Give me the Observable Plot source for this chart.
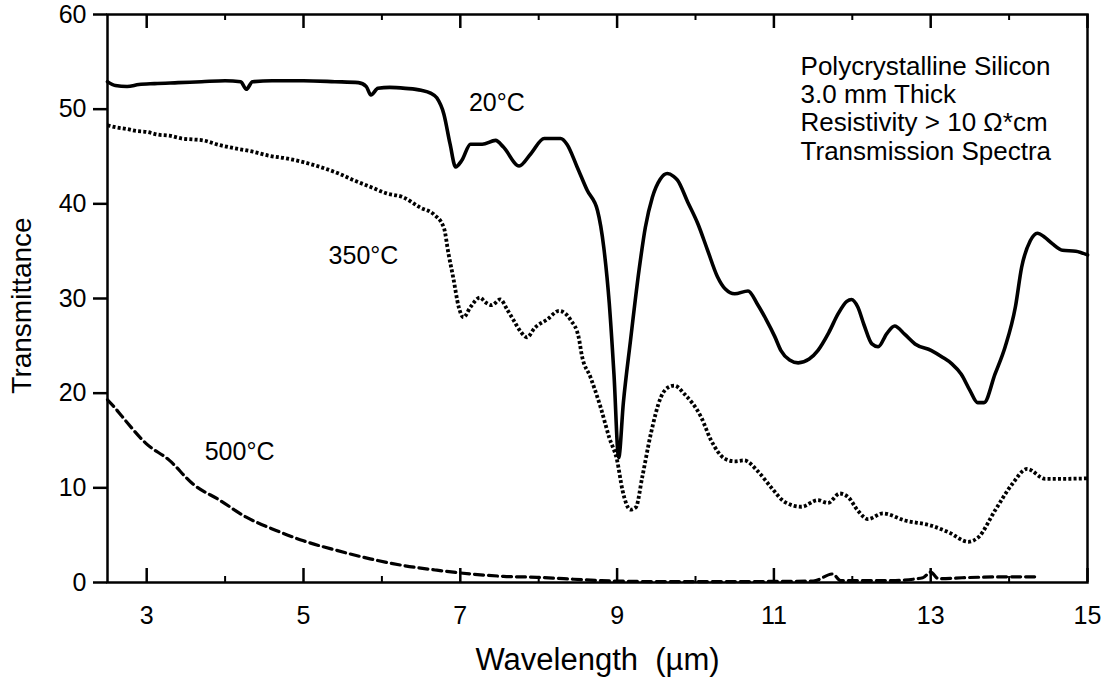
<!DOCTYPE html>
<html>
<head>
<meta charset="utf-8">
<script src="https://cdn.jsdelivr.net/npm/d3@7"></script>
<script src="https://cdn.jsdelivr.net/npm/@observablehq/plot@0.6"></script>
<style>
  html, body { margin: 0; padding: 0; background: #fff; }
</style>
</head>
<body>
<div id="chart"></div>
<script>
// Transmission spectra of polycrystalline silicon at three temperatures

// 20 °C spectrum: wavelength (µm) and transmittance (%)
const wl20 = [2.5, 2.6, 2.75, 2.9, 3.1, 3.4, 3.7, 4.0, 4.2, 4.27, 4.35, 4.6, 5.0, 5.4, 5.7, 5.8, 5.86, 5.95, 6.1, 6.3, 6.5, 6.62, 6.7, 6.79, 6.87, 6.94, 7.02, 7.13, 7.28, 7.45, 7.55, 7.75, 7.9, 8.07, 8.28, 8.36, 8.49, 8.62, 8.75, 8.83, 8.9, 8.96, 9.02, 9.08, 9.17, 9.28, 9.36, 9.45, 9.55, 9.64, 9.72, 9.77, 9.9, 10.03, 10.15, 10.28, 10.38, 10.5, 10.67, 10.79, 10.9, 11.01, 11.09, 11.2, 11.31, 11.45, 11.56, 11.7, 11.82, 11.93, 11.99, 12.07, 12.15, 12.25, 12.33, 12.44, 12.54, 12.67, 12.8, 13.01, 13.15, 13.27, 13.39, 13.5, 13.6, 13.68, 13.82, 13.95, 14.08, 14.16, 14.27, 14.36, 14.45, 14.55, 14.68, 14.85, 15.0];
const t20 = [52.9, 52.5, 52.4, 52.6, 52.7, 52.8, 52.9, 53.0, 52.9, 52.1, 52.9, 53.0, 53.0, 52.9, 52.8, 52.4, 51.5, 52.2, 52.3, 52.2, 52.0, 51.7, 51.2, 49.5, 46.3, 43.9, 44.6, 46.3, 46.3, 46.7, 46.0, 44.0, 45.3, 46.9, 46.9, 46.3, 43.9, 41.4, 39.3, 35.4, 29.5, 22.0, 13.2, 19.0, 25.5, 33.0, 37.5, 40.7, 42.6, 43.2, 42.9, 42.5, 40.2, 37.9, 35.2, 32.3, 31.0, 30.5, 30.8, 29.4, 27.8, 26.0, 24.5, 23.5, 23.2, 23.6, 24.5, 26.4, 28.4, 29.7, 29.9, 29.1, 27.2, 25.2, 24.9, 26.3, 27.1, 26.2, 25.2, 24.5, 23.8, 23.1, 22.0, 20.3, 19.0, 19.0, 22.0, 24.9, 29.1, 33.3, 36.1, 36.9, 36.5, 35.8, 35.1, 35.0, 34.6];

// 350 °C spectrum
const wl350 = [2.5, 2.6, 2.75, 2.86, 3.0, 3.15, 3.29, 3.45, 3.6, 3.72, 3.93, 4.1, 4.36, 4.55, 4.78, 5.0, 5.21, 5.45, 5.64, 5.85, 6.06, 6.27, 6.49, 6.66, 6.79, 6.85, 6.91, 6.98, 7.04, 7.13, 7.25, 7.32, 7.4, 7.51, 7.6, 7.68, 7.77, 7.85, 7.95, 8.11, 8.26, 8.41, 8.51, 8.55, 8.66, 8.79, 8.9, 9.0, 9.07, 9.17, 9.24, 9.32, 9.43, 9.56, 9.65, 9.73, 9.86, 10.07, 10.2, 10.37, 10.5, 10.62, 10.79, 10.96, 11.14, 11.35, 11.56, 11.69, 11.84, 11.95, 12.07, 12.2, 12.39, 12.67, 13.01, 13.23, 13.48, 13.61, 13.82, 14.04, 14.23, 14.46, 14.68, 15.0];
const t350 = [48.3, 48.1, 47.9, 47.7, 47.6, 47.3, 47.2, 46.9, 46.8, 46.7, 46.2, 45.9, 45.5, 45.1, 44.8, 44.4, 43.9, 43.2, 42.5, 41.8, 41.1, 40.7, 39.6, 38.9, 37.5, 34.7, 32.2, 29.1, 28.0, 29.1, 30.1, 29.6, 29.3, 29.9, 28.8, 27.7, 26.5, 25.9, 26.9, 27.8, 28.7, 27.7, 25.9, 24.0, 21.7, 18.5, 15.3, 12.9, 9.7, 7.7, 7.95, 11.1, 15.7, 19.6, 20.6, 20.8, 19.9, 17.5, 15.0, 13.1, 12.8, 12.9, 11.8, 10.1, 8.5, 8.0, 8.7, 8.4, 9.4, 9.0, 7.6, 6.7, 7.3, 6.55, 6.0, 5.3, 4.3, 4.8, 7.6, 10.4, 12.0, 10.95, 10.95, 11.0];

// 500 °C spectrum
const wl500 = [2.5, 2.59, 2.69, 2.99, 3.29, 3.59, 3.93, 4.27, 4.65, 5.0, 5.42, 5.85, 6.27, 6.7, 7.13, 7.55, 7.98, 8.32, 8.8, 9.5, 10.5, 11.5, 11.75, 11.85, 12.5, 12.9, 13.0, 13.1, 13.4, 14.0, 14.35];
const t500 = [19.3, 18.5, 17.5, 14.7, 12.9, 10.4, 8.7, 6.9, 5.5, 4.4, 3.4, 2.5, 1.8, 1.3, 0.9, 0.65, 0.55, 0.4, 0.2, 0.1, 0.1, 0.15, 0.9, 0.2, 0.2, 0.5, 1.1, 0.4, 0.5, 0.6, 0.6];

// Axis ticks
const xMajor = [3, 5, 7, 9, 11, 13, 15];
const xMinor = [4, 6, 8, 10, 12, 14];
const yTicks = [0, 10, 20, 30, 40, 50, 60];

// Curve labels and their anchor points (data units)
const curveLabels = ["20°C", "350°C", "500°C"];
const curveLabelX = [7.11, 5.32, 3.74];
const curveLabelY = [50.7, 34.5, 13.8];

// Sample description
const notes = ["Polycrystalline Silicon", "3.0 mm Thick", "Resistivity > 10 \u03A9*cm", "Transmission Spectra"];
const notesX = 11.34;
const notesY = 50.1;

const series = (wl, t) => wl.map((w, i) => ({w, t: t[i]}));
const s20 = series(wl20, t20);
const s350 = series(wl350, t350);
const s500 = series(wl500, t500);

const W = 1105, H = 677;
const mTop = 14, mBottom = 95, mLeft = 107, mRight = 18;
const innerH = H - mTop - mBottom;
const font = "'Liberation Sans', Arial, Helvetica, sans-serif";

const labelRows = curveLabels.map((s, i) => ({s, x: curveLabelX[i], y: curveLabelY[i]}));

const chart = Plot.plot({
  width: W,
  height: H,
  marginTop: mTop,
  marginBottom: mBottom,
  marginLeft: mLeft,
  marginRight: mRight,
  x: {domain: [2.5, 15]},
  y: {domain: [0, 60]},
  style: {fontFamily: font, fontSize: "25px", color: "#000", background: "#fff"},
  marks: [
    Plot.frame({stroke: "#000", strokeWidth: 2.5}),
    Plot.axisY({ticks: yTicks, tickSize: 14, tickPadding: 7, strokeWidth: 2.5, fontSize: 25, label: null}),
    Plot.axisX({ticks: xMajor, tickSize: 0, tickPadding: 24, fontSize: 25, label: null}),
    // inward ticks on bottom and top edges
    Plot.tickX(xMajor, {x: d => d, insetTop: innerH - 14, stroke: "#000", strokeWidth: 2.5}),
    Plot.tickX(xMajor, {x: d => d, insetBottom: innerH - 14, stroke: "#000", strokeWidth: 2.5}),
    Plot.tickX(xMinor, {x: d => d, insetTop: innerH - 6, stroke: "#000", strokeWidth: 2}),
    Plot.tickX(xMinor, {x: d => d, insetBottom: innerH - 6, stroke: "#000", strokeWidth: 2}),
    // spectra
    Plot.line(s500, {x: "w", y: "t", stroke: "#000", strokeWidth: 3.2, strokeDasharray: "9,5", curve: "monotone-x"}),
    Plot.line(s350, {x: "w", y: "t", stroke: "#000", strokeWidth: 3.8, strokeDasharray: "3,2.2", strokeLinecap: "butt", curve: "monotone-x"}),
    Plot.line(s20, {x: "w", y: "t", stroke: "#000", strokeWidth: 3.6, curve: "monotone-x", strokeLinejoin: "round"}),
    // curve labels
    Plot.text(labelRows, {x: "x", y: "y", text: "s", textAnchor: "start", fontSize: 25, fill: "#000"}),
    // sample description
    Plot.text([notes.join("\n")], {x: () => notesX, y: () => notesY, textAnchor: "start", lineAnchor: "middle", fontSize: 26, lineHeight: 1.09, fill: "#000"}),
    // axis titles
    Plot.text(["Wavelength  (\u00B5m)"], {frameAnchor: "bottom", dy: 78, textAnchor: "middle", lineAnchor: "middle", fontSize: 31, fill: "#000"}),
    Plot.text(["Transmittance"], {frameAnchor: "left", dx: -85, dy: 7, textAnchor: "middle", lineAnchor: "middle", rotate: -90, fontSize: 28, fill: "#000"})
  ]
});

document.getElementById("chart").appendChild(chart);
</script>
</body>
</html>
